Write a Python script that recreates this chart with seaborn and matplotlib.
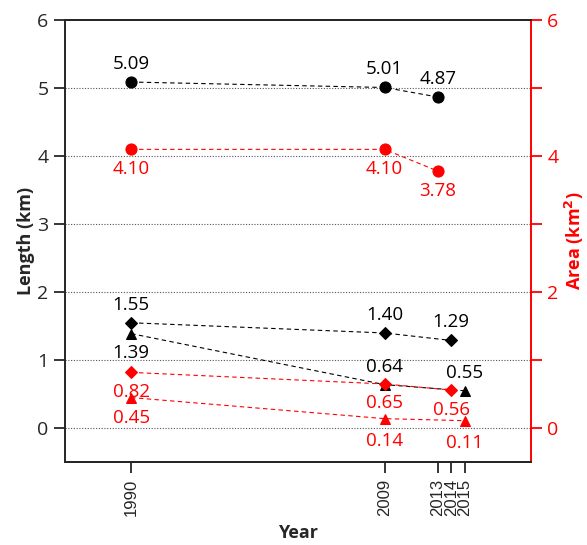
import pandas as pd
import matplotlib.pyplot as plt
import seaborn as sns

# 数据
years_circle = [1990, 2009, 2013]
length_circle = [5.09, 5.01, 4.87]
area_circle = [4.10, 4.10, 3.78]

years_diamond = [1990, 2009, 2014]
length_diamond = [1.55, 1.40, 1.29]
area_diamond = [0.82, 0.65, 0.56]

years_triangle = [1990, 2009, 2015]
length_triangle = [1.39, 0.64, 0.55]
area_triangle = [0.45, 0.14, 0.11]

year_ticks = [1990, 2009, 2013, 2014, 2015]

sns.set_style("ticks")
plt.rcParams['font.family'] = ['Open Sans', 'DejaVu Sans']

fig, ax = plt.subplots(figsize=(5.87, 5.45), dpi=100)
ax2 = ax.twinx()

RED = '#ff0000'

# (x, y, axis, color, marker, size, label offsets in points)
series = [
    (years_circle, length_circle, ax, 'black', 'o', 8, [13, 13, 13]),
    (years_circle, area_circle, ax2, RED, 'o', 8, [-14, -14, -14]),
    (years_diamond, length_diamond, ax, 'black', 'D', 6, [13, 13, 13]),
    (years_triangle, length_triangle, ax, 'black', '^', 7, [-14, 13, 13]),
    (years_diamond, area_diamond, ax2, RED, 'D', 6, [-14, -14, -14]),
    (years_triangle, area_triangle, ax2, RED, '^', 7, [-15, -16, -16]),
]

for xs, ys, a, c, m, ms, offs in series:
    df = pd.DataFrame({'Year': xs, 'Value': ys})
    sns.lineplot(data=df, x='Year', y='Value', ax=a, color=c, linestyle=(0, (4, 3)),
                 linewidth=0.8, marker=m, markersize=ms, markeredgecolor=c,
                 markerfacecolor=c, zorder=3)
    for x, y, o in zip(xs, ys, offs):
        a.annotate(f'{y:.2f}', (x, y), xytext=(0, o), textcoords='offset points',
                   ha='center', va='center', color=c, fontsize=13.5)

for a in (ax, ax2):
    a.set_xlim(1985, 2020)
    a.set_ylim(-0.5, 6)

# 网格线
for g in range(0, 6):
    ax.axhline(g, color='#555555', linestyle=(0, (1, 1.5)), linewidth=0.8, zorder=0)

ax.set_yticks(range(0, 7))
ax.set_xticks(year_ticks)
ax.set_xticklabels([str(y) for y in year_ticks], rotation=90,
                   family=['Liberation Sans', 'DejaVu Sans'], fontsize=12)
ax.tick_params(axis='both', labelsize=14, length=8, width=1.3, direction='out')
ax.tick_params(axis='x', labelsize=12, pad=4)

ax2.set_yticks([0, 2, 4, 6])
ax2.set_yticks([1, 3, 5], minor=True)
ax2.tick_params(axis='y', which='major', labelsize=14, colors=RED, length=8, width=1.3)
ax2.tick_params(axis='y', which='minor', colors=RED, length=8, width=1.3)

ax.set_xlabel('Year', fontsize=13, fontweight='bold', labelpad=6)
ax.set_ylabel('Length (km)', fontsize=13, fontweight='bold', labelpad=2)
ax2.set_ylabel('Area (km$^\\mathbf{2}$)', fontsize=13, fontweight='bold', color=RED, labelpad=3)

for a in (ax, ax2):
    for s in a.spines.values():
        s.set_linewidth(1.4)
ax.spines['bottom'].set_color('#333333')
ax2.spines['right'].set_color(RED)
ax2.spines['left'].set_visible(False)
ax.spines['right'].set_visible(False)

fig.subplots_adjust(left=0.11, right=0.905, top=0.963, bottom=0.152)
plt.savefig('out.png', dpi=100)
